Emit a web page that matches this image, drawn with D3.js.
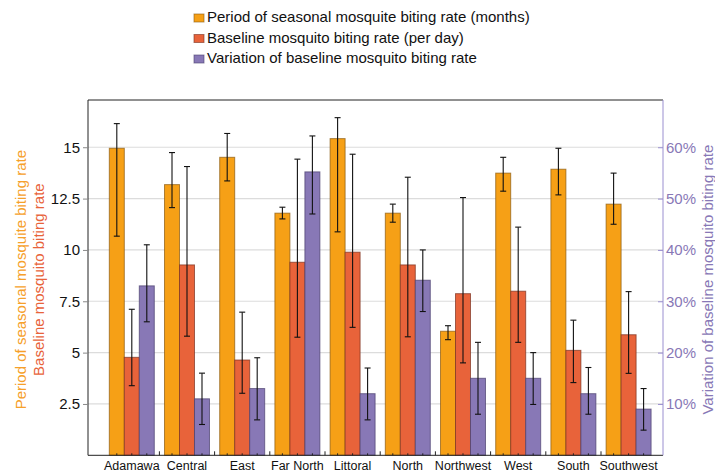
<!DOCTYPE html>
<meta charset="utf-8">
<script src="https://d3js.org/d3.v7.min.js"></script>
<style>
  body { margin: 0; background: #fff; }
  text { font-family: Arial, "Liberation Sans", sans-serif; }
</style>
<div id="chart"></div>
<script>

// regions on the x axis
const regions = ["Adamawa", "Central", "East", "Far North", "Littoral",
                 "North", "Northwest", "West", "South", "Southwest"];

// period of seasonal biting rate (months) with error bars
const period    = [14.95, 13.18, 14.51, 11.79, 15.42, 11.79, 6.04, 13.74, 13.93, 12.23];
const periodLow = [10.67, 12.06, 13.36, 11.51, 10.88, 11.35, 5.63, 12.86, 12.68, 11.25];
const periodHigh= [16.15, 14.74, 15.67, 12.08, 16.44, 12.23, 6.31, 14.51, 14.95, 13.74];

// baseline biting rate (per day)
const baseline    = [4.77, 9.27, 4.64, 9.40, 9.89, 9.27, 7.87, 7.99, 5.11, 5.87];
const baselineLow = [3.39, 5.80, 3.02, 5.75, 6.23, 5.77, 4.50, 5.50, 3.54, 3.99];
const baselineHigh= [7.11, 14.06, 6.97, 14.42, 14.66, 13.54, 12.55, 11.11, 6.58, 7.97];

// variation of baseline biting rate (%)
const variation    = [33.0, 11.0, 13.0, 55.2, 12.0, 34.1, 15.0, 15.0, 12.0, 9.0];
const variationLow = [26.0, 6.0, 6.9, 47.0, 6.9, 28.0, 8.0, 9.9, 8.0, 4.9];
const variationHigh= [41.0, 16.0, 19.0, 62.2, 17.0, 40.0, 22.0, 20.0, 17.1, 13.0];

const leftTicks  = [2.5, 5, 7.5, 10, 12.5, 15];
const rightTicks = [10, 20, 30, 40, 50, 60];

const seriesNames = ["Period of seasonal mosquite biting rate (months)",
                     "Baseline mosquito biting rate (per day)",
                     "Variation of baseline mosquito biting rate"];
const colors = ["#f6a016", "#e8633a", "#8878b6"];
const strokes = ["#8a5a10", "#7a3020", "#4a3f6e"];

const width = 715, height = 472;
const plot = {left: 88, right: 663, top: 100, bottom: 455.3};

const svg = d3.select("#chart").append("svg")
    .attr("width", width)
    .attr("height", height);

// scales
const yL = d3.scaleLinear().domain([0, 17.3]).range([plot.bottom, plot.top]);
const yR = d3.scaleLinear().domain([0, 69.2]).range([plot.bottom, plot.top]);

const x = d3.scaleBand()
    .domain(regions)
    .range([104.2, 656.2])
    .paddingInner(0.185)
    .paddingOuter(0.0925);

const xs = d3.scaleBand()
    .domain([0, 1, 2])
    .range([0, x.bandwidth()]);

// gridlines
svg.append("g")
    .selectAll("line")
    .data(leftTicks)
    .join("line")
    .attr("x1", plot.left).attr("x2", plot.right)
    .attr("y1", d => yL(d)).attr("y2", d => yL(d))
    .attr("stroke", "#dcdcdc")
    .attr("stroke-width", 1.2);

// frame top
svg.append("line")
    .attr("x1", plot.left).attr("x2", plot.right)
    .attr("y1", plot.top).attr("y2", plot.top)
    .attr("stroke", "#222");

// build records
const rows = [];
regions.forEach((r, i) => {
    rows.push({region: r, s: 0, v: period[i], lo: periodLow[i], hi: periodHigh[i], y: yL});
    rows.push({region: r, s: 1, v: baseline[i], lo: baselineLow[i], hi: baselineHigh[i], y: yL});
    rows.push({region: r, s: 2, v: variation[i], lo: variationLow[i], hi: variationHigh[i], y: yR});
});

// bars
svg.append("g")
    .selectAll("rect")
    .data(rows)
    .join("rect")
    .attr("x", d => x(d.region) + xs(d.s))
    .attr("width", xs.bandwidth())
    .attr("y", d => d.y(d.v))
    .attr("height", d => plot.bottom - d.y(d.v))
    .attr("fill", d => colors[d.s])
    .attr("stroke", d => strokes[d.s])
    .attr("stroke-opacity", 0.7)
    .attr("stroke-width", 1);

// error bars
const eb = svg.append("g")
    .attr("stroke", "#111")
    .attr("stroke-width", 1.1);
const cx = d => x(d.region) + xs(d.s) + xs.bandwidth() / 2;
eb.selectAll("line.v")
    .data(rows)
    .join("line")
    .attr("class", "v")
    .attr("x1", cx).attr("x2", cx)
    .attr("y1", d => d.y(d.lo)).attr("y2", d => d.y(d.hi));
eb.selectAll("line.h")
    .data(rows)
    .join("line")
    .attr("class", "h")
    .attr("x1", d => cx(d) - 3).attr("x2", d => cx(d) + 3)
    .attr("y1", d => d.y(d.hi)).attr("y2", d => d.y(d.hi));
eb.selectAll("line.l")
    .data(rows)
    .join("line")
    .attr("class", "l")
    .attr("x1", d => cx(d) - 3).attr("x2", d => cx(d) + 3)
    .attr("y1", d => d.y(d.lo)).attr("y2", d => d.y(d.lo));

// bottom axis with small ticks
svg.append("line")
    .attr("x1", plot.left).attr("x2", plot.right)
    .attr("y1", plot.bottom).attr("y2", plot.bottom)
    .attr("stroke", "#222");
svg.append("g")
    .selectAll("line")
    .data(rows)
    .join("line")
    .attr("x1", cx).attr("x2", cx)
    .attr("y1", plot.bottom).attr("y2", plot.bottom - 2)
    .attr("stroke", "#222");
const seps = regions.slice(1).map(r => x(r) - x.step() * x.paddingInner() / 2);
svg.append("g")
    .selectAll("line")
    .data(seps)
    .join("line")
    .attr("x1", d => d).attr("x2", d => d)
    .attr("y1", plot.bottom).attr("y2", plot.bottom - 4)
    .attr("stroke", "#222");
svg.append("g")
    .selectAll("text")
    .data(regions)
    .join("text")
    .attr("x", d => x(d) + x.bandwidth() / 2)
    .attr("y", plot.bottom + 15)
    .attr("text-anchor", "middle")
    .attr("font-size", 12.5)
    .attr("fill", "#111")
    .text(d => d);

// left axis
svg.append("g")
    .attr("transform", `translate(${plot.left},0)`)
    .call(d3.axisLeft(yL).tickValues(leftTicks).tickSize(5).tickFormat(d => d))
    .call(g => g.select(".domain").attr("d", `M0,${plot.top}V${plot.bottom}`).attr("stroke", "#222"))
    .call(g => g.selectAll(".tick line").attr("stroke", "#888"))
    .call(g => g.selectAll(".tick text").attr("font-size", 15).attr("fill", "#111")
        .attr("font-family", "Arial, 'Liberation Sans', sans-serif"));

// right axis
svg.append("g")
    .attr("transform", `translate(${plot.right},0)`)
    .call(d3.axisRight(yR).tickValues(rightTicks).tickSize(5).tickFormat(d => d + "%"))
    .call(g => g.select(".domain").attr("d", `M0,${plot.top}V${plot.bottom}`).attr("stroke", "#9a8fd0"))
    .call(g => g.selectAll(".tick line").attr("stroke", "#9a8fd0").attr("x1", -5).attr("x2", 0))
    .call(g => g.selectAll(".tick text").attr("x", 3).attr("font-size", 15).attr("fill", "#8878b6")
        .attr("font-family", "Arial, 'Liberation Sans', sans-serif"));

// axis titles
svg.append("text")
    .attr("transform", `translate(26,${(plot.top + plot.bottom) / 2 + 2}) rotate(-90)`)
    .attr("text-anchor", "middle")
    .attr("font-size", 15)
    .attr("fill", "#f6a02a")
    .text("Period of seasonal mosquite biting rate");
svg.append("text")
    .attr("transform", `translate(44,${(plot.top + plot.bottom) / 2 + 2}) rotate(-90)`)
    .attr("text-anchor", "middle")
    .attr("font-size", 15)
    .attr("fill", "#e8633a")
    .text("Baseline mosquito biting rate");
svg.append("text")
    .attr("transform", `translate(713,${(plot.top + plot.bottom) / 2 + 2}) rotate(-90)`)
    .attr("text-anchor", "middle")
    .attr("font-size", 15)
    .attr("fill", "#8878b6")
    .text("Variation of baseline mosquito biting rate");

// legend
const legend = svg.append("g")
    .selectAll("g")
    .data(seriesNames)
    .join("g")
    .attr("transform", (d, i) => `translate(194,${11 + i * 20.5})`);
legend.append("rect")
    .attr("x", 0).attr("y", 3)
    .attr("width", 10).attr("height", 8)
    .attr("fill", (d, i) => colors[i])
    .attr("stroke", (d, i) => strokes[i])
    .attr("stroke-opacity", 0.6);
legend.append("text")
    .attr("x", 13).attr("y", 11)
    .attr("font-size", 15)
    .attr("fill", "#111")
    .text(d => d);

</script>
